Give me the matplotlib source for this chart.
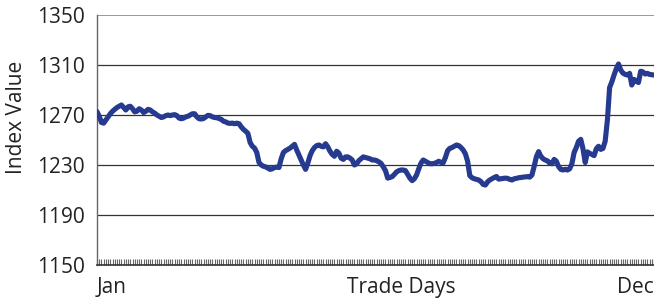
import numpy as np
import matplotlib
matplotlib.use("Agg")
import matplotlib.pyplot as plt

plt.rcParams["font.family"] = ["Open Sans", "DejaVu Sans"]

# daily index values, Jan -> Dec (252 trading days)
index_values = [
    1272.7, 1269, 1264, 1263.5, 1266, 1268.5, 1271, 1273, 1274.5, 1276,
    1277, 1278, 1276, 1274, 1276.5, 1277, 1275, 1272.5, 1273, 1275,
    1274, 1272, 1273, 1274.5, 1274, 1272.5, 1271.5, 1270, 1269, 1268,
    1268.5, 1269.5, 1270, 1269.5, 1270, 1270.3, 1269.5, 1267.5, 1267, 1267.5,
    1268.5, 1269, 1270, 1271, 1271, 1268.5, 1267, 1266.8, 1267.2, 1268.5,
    1269.7, 1269.5, 1268.5, 1268, 1267.8, 1267.2, 1266.5, 1265, 1264.5, 1263.5,
    1263.3, 1263.5, 1263, 1263.5, 1263, 1260.5, 1258.5, 1257, 1255.3, 1248,
    1245, 1243.5, 1240, 1232, 1230, 1229, 1228.5, 1227.5, 1226.5, 1227,
    1228, 1228.3, 1228, 1235, 1240, 1241.5, 1242.5, 1243.5, 1245, 1246.5,
    1242, 1238, 1234, 1230, 1226.5, 1231.5, 1237.5, 1241.5, 1244, 1245.5,
    1246, 1245, 1244.5, 1247, 1244.5, 1241, 1238.5, 1237, 1241, 1239.5,
    1235.5, 1234.5, 1236.5, 1236.5, 1235.5, 1234, 1230, 1231, 1233.5, 1235,
    1236.5, 1236, 1235.5, 1235, 1234, 1234, 1233.5, 1232.5, 1231.3, 1228.5,
    1225.5, 1219.5, 1220, 1220.7, 1222.5, 1224.5, 1225.5, 1226, 1226, 1225.5,
    1222.5, 1219.5, 1217.5, 1219, 1222, 1227, 1231.5, 1234, 1233, 1232,
    1231, 1231, 1231.3, 1232, 1233, 1232, 1231.8, 1236, 1241.5, 1243.3,
    1244, 1245, 1246, 1245.5, 1244, 1242, 1239, 1233, 1221.5, 1219.8,
    1219, 1218.5, 1218, 1216.7, 1214.5, 1214, 1216.5, 1218, 1219, 1220,
    1220.8, 1218.7, 1219, 1219.3, 1219.5, 1219.3, 1218.5, 1218, 1219, 1219.3,
    1219.8, 1220, 1220.3, 1220.5, 1220.7, 1220.3, 1222, 1229, 1236.5, 1240.7,
    1237, 1235, 1234, 1233.3, 1231.5, 1231, 1234.5, 1233, 1228.7, 1226.5,
    1226, 1226.5, 1226, 1227, 1231, 1240, 1244, 1249, 1250.5, 1243,
    1232, 1240.5, 1239.3, 1238.5, 1237.5, 1243, 1245, 1242.5, 1243.3, 1249,
    1266, 1292, 1296.5, 1302, 1307, 1310.8, 1306, 1303.5, 1302.5, 1302,
    1303.3, 1294, 1298.5, 1297, 1296, 1305, 1304.5, 1302.8, 1303.3, 1302.5,
    1302.2, 1302,
]
y_ticks = [1150, 1190, 1230, 1270, 1310, 1350]
x_labels = ["Jan", "Trade Days", "Dec"]

days = np.arange(len(index_values))

fig = plt.figure(figsize=(6.54, 3.0), dpi=100)
ax = fig.add_axes([97 / 654, 35 / 300, 557 / 654, 250 / 300])

# horizontal grid
for v in y_ticks[1:-1]:
    ax.axhline(v, color="#333333", lw=0.9, zorder=1)
ax.axhline(y_ticks[-1], color="#888888", lw=1.2, zorder=1)

ax.plot(days, index_values, color="#263a8f", lw=3.7, solid_capstyle="round",
        solid_joinstyle="round", zorder=3)

ax.set_xlim(0, len(index_values) - 1)
ax.set_ylim(y_ticks[0], y_ticks[-1])
ax.set_yticks(y_ticks)
ax.set_yticklabels([str(v) for v in y_ticks], fontsize=15, color="#222222")
ax.tick_params(axis="y", length=0, pad=9)

# one small tick per trading day
ax.set_xticks(days)
ax.set_xticklabels([])
ax.tick_params(axis="x", direction="in", length=4, width=0.8,
               color="#666666")

for side in ["top", "right"]:
    ax.spines[side].set_visible(False)
ax.spines["left"].set_color("#666666")
ax.spines["left"].set_linewidth(1.0)
ax.spines["bottom"].set_color("#333333")
ax.spines["bottom"].set_linewidth(1.2)

fig.text(97 / 654, 2 / 300, x_labels[0], fontsize=15, color="#222222",
         ha="left", va="bottom")
fig.text(401 / 654, 2 / 300, x_labels[1], fontsize=15, color="#222222",
         ha="center", va="bottom")
fig.text(654 / 654, 2 / 300, x_labels[2], fontsize=15, color="#222222",
         ha="right", va="bottom")
fig.text(17 / 654, 1 - 117 / 300, "Index Value", fontsize=15,
         color="#222222", rotation=90, ha="center", va="center")

fig.savefig("out.png", dpi=100)
